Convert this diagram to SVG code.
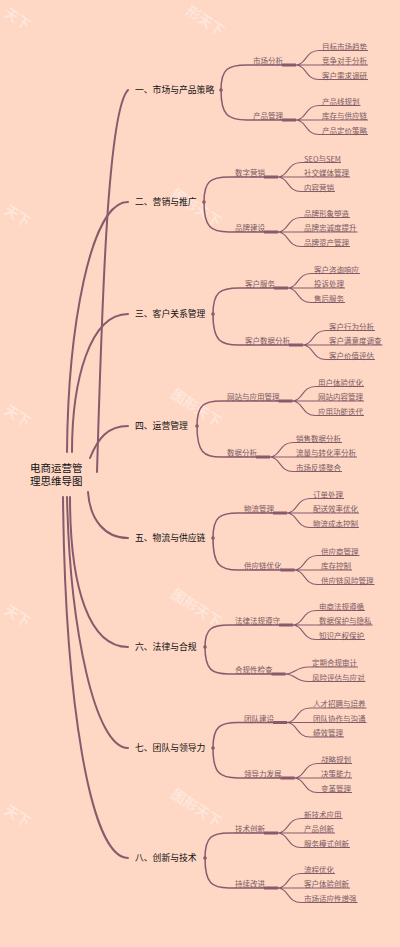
<svg xmlns="http://www.w3.org/2000/svg" width="400" height="947" viewBox="0 0 400 947">
<style>
.t0{font-family:"Noto Sans CJK SC","Noto Sans",sans-serif;font-size:10.5px;fill:#111}
.t1{font-family:"Noto Sans CJK SC","Noto Sans",sans-serif;font-size:8.8px;fill:#111}
.t2{font-family:"Noto Sans CJK SC","Noto Sans",sans-serif;font-size:7.5px;fill:#7a5a62}
.c0{fill:none;stroke:#8a5a6c;stroke-width:2;stroke-linecap:round}
.c1{fill:none;stroke:#8a5a6c;stroke-width:1.5;stroke-linecap:round}
.c2{fill:none;stroke:#8a5a6c;stroke-width:1.1}
.b{fill:none;stroke:#8a5a6c;stroke-width:2.8}
.wm{font-family:"Noto Sans CJK SC",sans-serif;font-size:14px;font-weight:bold;fill:#fff;fill-opacity:0.4;text-anchor:middle;dominant-baseline:central}
</style>
<rect width="400" height="947" fill="#FED7C5"/>
<g id="watermarks">
<text class="wm" x="206" y="20" transform="rotate(33 206 20)">形天下</text>
<text class="wm" x="18" y="18" transform="rotate(33 18 18)">天下</text>
<text class="wm" x="197" y="207" transform="rotate(33 197 207)">图形天下</text>
<text class="wm" x="18" y="215" transform="rotate(33 18 215)">天下</text>
<text class="wm" x="197" y="407" transform="rotate(33 197 407)">图形天下</text>
<text class="wm" x="18" y="415" transform="rotate(33 18 415)">天下</text>
<text class="wm" x="197" y="607" transform="rotate(33 197 607)">图形天下</text>
<text class="wm" x="18" y="615" transform="rotate(33 18 615)">天下</text>
<text class="wm" x="197" y="807" transform="rotate(33 197 807)">图形天下</text>
<text class="wm" x="18" y="815" transform="rotate(33 18 815)">天下</text>
</g>
<g id="connectors">
<path class="c0" d="M97 472C102 300 108 110 128 90"/>
<path class="c0" d="M67 452C68 330 90 202 128 202"/>
<path class="c0" d="M72 452C72 380 90 314 128 314"/>
<path class="c0" d="M90 458C98 438 108 426 128 426"/>
<path class="c0" d="M88 492C90 520 105 538 128 538"/>
<path class="c0" d="M70 497C70 590 90 647 128 647"/>
<path class="c0" d="M67 497C70 630 95 748 128 748"/>
<path class="c0" d="M63 497C65 700 90 858 128 858"/>
<path class="c1" d="M221 90C221 68.8 228 65 247 65L283 65"/>
<path class="c1" d="M221 90C221 115.5 228 120 247 120L283 120"/>
<path class="c1" d="M204 202C204 180.8 211 177 229 177L265 177"/>
<path class="c1" d="M204 202C204 227.5 211 232 229 232L265 232"/>
<path class="c1" d="M213 314C213 291.9 220 288 239 288L275 288"/>
<path class="c1" d="M213 314C213 340.4 220 345 239 345L290 345"/>
<path class="c1" d="M197 426C197 404.8 204 401 221 401L279.5 401"/>
<path class="c1" d="M197 426C197 452.4 204 457 221 457L257 457"/>
<path class="c1" d="M213 538C213 516.8 220 513 238 513L274 513"/>
<path class="c1" d="M213 538C213 565.2 220 570 238 570L281.5 570"/>
<path class="c1" d="M205 647C205 628.3 212 625 229 625L280 625"/>
<path class="c1" d="M205 647C205 670 212 674 229 674L272.5 674"/>
<path class="c1" d="M213 748C213 726.3 220 722.5 238 722.5L274 722.5"/>
<path class="c1" d="M213 748C213 773.5 220 778 238 778L281.5 778"/>
<path class="c1" d="M205 858C205 836.8 212 833 229 833L265 833"/>
<path class="c1" d="M205 858C205 883.5 212 888 229 888L265 888"/>
<path class="b" d="M282 65H296M282 120H296M264 177H278M264 232H278M274 288H288M289 345H303M278.5 401H292.5M256 457H270M273 513H287M280.5 570H294.5M279 625H293M271.5 674H285.5M273 722.5H287M280.5 778H294.5M264 833H278M264 888H278"/>
<path class="c2" d="M283 65L295 65C307 65 305 50.5 319 50.5L368 50.5M283 65L368 65M283 65L295 65C307 65 305 79.5 319 79.5L368 79.5"/>
<path class="c2" d="M283 120L295 120C307 120 305 105.5 319 105.5L360.5 105.5M283 120L368 120M283 120L295 120C307 120 305 134.5 319 134.5L368 134.5"/>
<path class="c2" d="M265 177L277 177C289 177 287 162.5 301 162.5L341 162.5M265 177L350 177M265 177L277 177C289 177 287 191.5 301 191.5L335 191.5"/>
<path class="c2" d="M265 232L277 232C289 232 287 217.5 301 217.5L350 217.5M265 232L357.5 232M265 232L277 232C289 232 287 246.5 301 246.5L350 246.5"/>
<path class="c2" d="M275 288L287 288C299 288 297 273.5 311 273.5L360 273.5M275 288L345 288M275 288L287 288C299 288 297 302.5 311 302.5L345 302.5"/>
<path class="c2" d="M290 345L302 345C314 345 312 330.5 326 330.5L375 330.5M290 345L382.5 345M290 345L302 345C314 345 312 359.5 326 359.5L375 359.5"/>
<path class="c2" d="M279.5 401L291.5 401C303.5 401 301.5 386.5 315.5 386.5L364 386.5M279.5 401L364 401M279.5 401L291.5 401C303.5 401 301.5 415.5 315.5 415.5L364 415.5"/>
<path class="c2" d="M257 457L269 457C281 457 279 442.5 293 442.5L342 442.5M257 457L357 457M257 457L269 457C281 457 279 471.5 293 471.5L342 471.5"/>
<path class="c2" d="M274 513L286 513C298 513 296 498.5 310 498.5L344 498.5M274 513L359 513M274 513L286 513C298 513 296 527.5 310 527.5L359 527.5"/>
<path class="c2" d="M281.5 570L293.5 570C305.5 570 303.5 555.5 317.5 555.5L359.5 555.5M281.5 570L352 570M281.5 570L293.5 570C305.5 570 303.5 584.5 317.5 584.5L374.5 584.5"/>
<path class="c2" d="M280 625L292 625C304 625 302 610.5 316 610.5L365 610.5M280 625L372.5 625M280 625L292 625C304 625 302 639.5 316 639.5L365 639.5"/>
<path class="c2" d="M272.5 674L284.5 674C296.5 674 294.5 667 308.5 667L358 667M272.5 674L284.5 674C296.5 674 294.5 681.5 308.5 681.5L365.5 681.5"/>
<path class="c2" d="M274 722.5L286 722.5C298 722.5 296 708 310 708L366.5 708M274 722.5L366.5 722.5M274 722.5L286 722.5C298 722.5 296 737 310 737L344 737"/>
<path class="c2" d="M281.5 778L293.5 778C305.5 778 303.5 763.5 317.5 763.5L352 763.5M281.5 778L352 778M281.5 778L293.5 778C305.5 778 303.5 792.5 317.5 792.5L352 792.5"/>
<path class="c2" d="M265 833L277 833C289 833 287 818.5 301 818.5L342.5 818.5M265 833L335 833M265 833L277 833C289 833 287 847.5 301 847.5L350 847.5"/>
<path class="c2" d="M265 888L277 888C289 888 287 873.5 301 873.5L335 873.5M265 888L350 888M265 888L277 888C289 888 287 902.5 301 902.5L357.5 902.5"/>
<g fill="#8a5a6c">
<circle cx="221" cy="90" r="1.8"/><circle cx="204" cy="202" r="1.8"/><circle cx="213" cy="314" r="1.8"/><circle cx="197" cy="426" r="1.8"/>
<circle cx="213" cy="538" r="1.8"/><circle cx="205" cy="647" r="1.8"/><circle cx="213" cy="748" r="1.8"/><circle cx="205" cy="858" r="1.8"/>
</g>
</g>
<g id="root"><text class="t0" x="30" y="471.5">电商运营管</text><text class="t0" x="30" y="484.8">理思维导图</text></g>
<g id="n1"><text class="t1" x="135" y="93">一、市场与产品策略</text></g>
<g id="n2"><text class="t1" x="135" y="205">二、营销与推广</text></g>
<g id="n3"><text class="t1" x="135" y="317">三、客户关系管理</text></g>
<g id="n4"><text class="t1" x="135" y="429">四、运营管理</text></g>
<g id="n5"><text class="t1" x="135" y="541">五、物流与供应链</text></g>
<g id="n6"><text class="t1" x="135" y="650">六、法律与合规</text></g>
<g id="n7"><text class="t1" x="135" y="751">七、团队与领导力</text></g>
<g id="n8"><text class="t1" x="135" y="861">八、创新与技术</text></g>
<g id="n1-1"><text class="t2" x="253" y="64.2">市场分析</text></g>
<g id="n1-2"><text class="t2" x="253" y="119.2">产品管理</text></g>
<g id="n2-1"><text class="t2" x="235" y="176.2">数字营销</text></g>
<g id="n2-2"><text class="t2" x="235" y="231.2">品牌建设</text></g>
<g id="n3-1"><text class="t2" x="245" y="287.2">客户服务</text></g>
<g id="n3-2"><text class="t2" x="245" y="344.2">客户数据分析</text></g>
<g id="n4-1"><text class="t2" x="227" y="400.2">网站与应用管理</text></g>
<g id="n4-2"><text class="t2" x="227" y="456.2">数据分析</text></g>
<g id="n5-1"><text class="t2" x="244" y="512.2">物流管理</text></g>
<g id="n5-2"><text class="t2" x="244" y="569.2">供应链优化</text></g>
<g id="n6-1"><text class="t2" x="235" y="624.2">法律法规遵守</text></g>
<g id="n6-2"><text class="t2" x="235" y="673.2">合规性检查</text></g>
<g id="n7-1"><text class="t2" x="244" y="721.7">团队建设</text></g>
<g id="n7-2"><text class="t2" x="244" y="777.2">领导力发展</text></g>
<g id="n8-1"><text class="t2" x="235" y="832.2">技术创新</text></g>
<g id="n8-2"><text class="t2" x="235" y="887.2">持续改进</text></g>
<g id="leaves1"><text class="t2" x="322" y="49.7">目标市场趋势</text><text class="t2" x="322" y="64.2">竞争对手分析</text><text class="t2" x="322" y="78.7">客户需求调研</text>
<text class="t2" x="322" y="104.7">产品线规划</text><text class="t2" x="322" y="119.2">库存与供应链</text><text class="t2" x="322" y="133.7">产品定价策略</text></g>
<g id="leaves2"><text class="t2" x="304" y="161.7">SEO与SEM</text><text class="t2" x="304" y="176.2">社交媒体管理</text><text class="t2" x="304" y="190.7">内容营销</text>
<text class="t2" x="304" y="216.7">品牌形象塑造</text><text class="t2" x="304" y="231.2">品牌忠诚度提升</text><text class="t2" x="304" y="245.7">品牌资产管理</text></g>
<g id="leaves3"><text class="t2" x="314" y="272.7">客户咨询响应</text><text class="t2" x="314" y="287.2">投诉处理</text><text class="t2" x="314" y="301.7">售后服务</text>
<text class="t2" x="329" y="329.7">客户行为分析</text><text class="t2" x="329" y="344.2">客户满意度调查</text><text class="t2" x="329" y="358.7">客户价值评估</text></g>
<g id="leaves4"><text class="t2" x="318" y="385.7">用户体验优化</text><text class="t2" x="318" y="400.2">网站内容管理</text><text class="t2" x="318" y="414.7">应用功能迭代</text>
<text class="t2" x="296" y="441.7">销售数据分析</text><text class="t2" x="296" y="456.2">流量与转化率分析</text><text class="t2" x="296" y="470.7">市场反馈整合</text></g>
<g id="leaves5"><text class="t2" x="313" y="497.7">订单处理</text><text class="t2" x="313" y="512.2">配送效率优化</text><text class="t2" x="313" y="526.7">物流成本控制</text>
<text class="t2" x="321" y="554.7">供应商管理</text><text class="t2" x="321" y="569.2">库存控制</text><text class="t2" x="321" y="583.7">供应链风险管理</text></g>
<g id="leaves6"><text class="t2" x="319" y="609.7">电商法规遵循</text><text class="t2" x="319" y="624.2">数据保护与隐私</text><text class="t2" x="319" y="638.7">知识产权保护</text>
<text class="t2" x="312" y="666.2">定期合规审计</text><text class="t2" x="312" y="680.7">风险评估与应对</text></g>
<g id="leaves7"><text class="t2" x="313" y="707.2">人才招聘与培养</text><text class="t2" x="313" y="721.7">团队协作与沟通</text><text class="t2" x="313" y="736.2">绩效管理</text>
<text class="t2" x="321" y="762.7">战略规划</text><text class="t2" x="321" y="777.2">决策能力</text><text class="t2" x="321" y="791.7">变革管理</text></g>
<g id="leaves8"><text class="t2" x="304" y="817.7">新技术应用</text><text class="t2" x="304" y="832.2">产品创新</text><text class="t2" x="304" y="846.7">服务模式创新</text>
<text class="t2" x="304" y="872.7">流程优化</text><text class="t2" x="304" y="887.2">客户体验创新</text><text class="t2" x="304" y="901.7">市场适应性增强</text></g>
</svg>
